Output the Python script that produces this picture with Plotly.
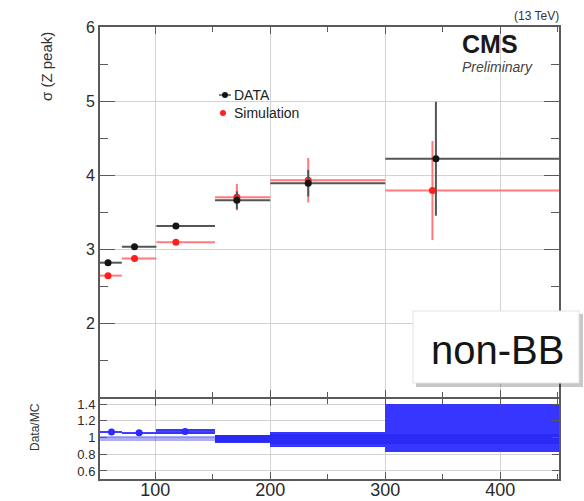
import plotly.graph_objects as go

# Bin edges of the mass-window bins (GeV)
bin_lo = [50, 71, 101, 152, 200, 300]
bin_hi = [71, 101, 152, 200, 300, 460]

# Width of the Z peak per bin: data and simulation
data_x = [59, 82, 118, 171, 233, 344]
data_y = [2.815, 3.03, 3.31, 3.66, 3.89, 4.22]
data_err = [0.02, 0.02, 0.02, 0.12, 0.18, 0.77]

mc_x = [59, 82, 118, 171, 233, 341]
mc_y = [2.64, 2.87, 3.09, 3.70, 3.93, 3.79]
mc_err = [0.02, 0.02, 0.02, 0.18, 0.30, 0.67]

# Data/MC ratio panel
ratio_x = [62, 86, 126, 171, 233, 344]
ratio = [1.066, 1.056, 1.071, 0.985, 0.98, 1.115]
ratio_err = [0.008, 0.008, 0.028, 0.045, 0.09, 0.285]
band_center = [0.99, 0.99, 0.99, 0.99, 0.98, 0.98]
band_half = [0.03, 0.03, 0.03, 0.04, 0.06, 0.06]

x_ticks = [100, 200, 300, 400]
y_ticks = [1, 2, 3, 4, 5, 6]
y_tick_text = ["", "2", "3", "4", "5", "6"]
r_ticks = [0.6, 0.8, 1.0, 1.2, 1.4]
r_tick_text = ["0.6", "0.8", "1", "1.2", "1.4"]

FONT = "Liberation Sans, Arial, sans-serif"
FRAME = "#5a5a5a"
GRID = "#d2d2d2"

centers = [(a + b) / 2 for a, b in zip(bin_lo, bin_hi)]
widths = [b - a for a, b in zip(bin_lo, bin_hi)]

fig = go.Figure()

# Main panel: simulation first, data on top
fig.add_trace(go.Scatter(
    x=mc_x, y=mc_y, mode="markers", name="Simulation",
    marker=dict(color="#ff1f1f", size=7),
    error_x=dict(type="data", symmetric=False,
                 array=[h - x for h, x in zip(bin_hi, mc_x)],
                 arrayminus=[x - l for l, x in zip(bin_lo, mc_x)],
                 color="#ff7a7a", thickness=2, width=0),
    error_y=dict(type="data", array=mc_err, color="#ff7a7a", thickness=2, width=0),
    xaxis="x", yaxis="y",
))
fig.add_trace(go.Scatter(
    x=data_x, y=data_y, mode="markers", name="DATA",
    marker=dict(color="#141414", size=7),
    error_x=dict(type="data", symmetric=False,
                 array=[h - x for h, x in zip(bin_hi, data_x)],
                 arrayminus=[x - l for l, x in zip(bin_lo, data_x)],
                 color="#555555", thickness=2, width=0),
    error_y=dict(type="data", array=data_err, color="#555555", thickness=2, width=0),
    xaxis="x", yaxis="y",
))

# Ratio panel: filled error boxes, reference band and points
fig.add_trace(go.Bar(
    x=centers, width=widths,
    base=[r - e for r, e in zip(ratio, ratio_err)],
    y=[2 * e for e in ratio_err],
    marker=dict(color="#3636ff", line=dict(width=0)),
    xaxis="x2", yaxis="y2",
))
fig.add_trace(go.Bar(
    x=centers, width=widths,
    base=[c - h for c, h in zip(band_center, band_half)],
    y=[2 * h for h in band_half],
    marker=dict(color="rgba(20,20,225,0.35)", line=dict(width=0)),
    xaxis="x2", yaxis="y2",
))
fig.add_trace(go.Scatter(
    x=ratio_x[:3], y=ratio[:3], mode="markers",
    marker=dict(color="#2b2bff", size=7),
    error_x=dict(type="data", symmetric=False,
                 array=[h - x for h, x in zip(bin_hi[:3], ratio_x[:3])],
                 arrayminus=[x - l for l, x in zip(bin_lo[:3], ratio_x[:3])],
                 color="#4a4aff", thickness=1, width=0),
    xaxis="x2", yaxis="y2",
))

axis_common = dict(showline=True, linecolor=FRAME, linewidth=2, mirror="allticks",
                   ticks="inside", tickcolor=FRAME, zeroline=False,
                   showgrid=True, gridcolor=GRID, gridwidth=1,
                   tickfont=dict(family=FONT, color="#2a2a2a"), automargin=False)

X_RANGE = [52, 451]
R_SPLIT = 82 / 452           # main panel bottom edge (fraction of plot height)
R_TOP = 80 / 452             # ratio panel top edge, so both frame lines coincide

fig.update_layout(
    width=584, height=501,
    margin=dict(l=100, r=25, t=27, b=22),
    paper_bgcolor="white", plot_bgcolor="white",
    showlegend=False, barmode="overlay", bargap=0,
    xaxis=dict(axis_common, domain=[0, 1], anchor="y", range=X_RANGE,
               tickmode="array", tickvals=x_ticks, showticklabels=False, ticklen=7,
               minor=dict(tickmode="linear", tick0=0, dtick=50, ticks="inside",
                          ticklen=5, tickcolor=FRAME, showgrid=False)),
    yaxis=dict(axis_common, domain=[R_SPLIT, 1], anchor="x", range=[1, 6],
               tickmode="array", tickvals=y_ticks, ticktext=y_tick_text, ticklen=15,
               tickfont=dict(family=FONT, size=16, color="#2a2a2a"),
               minor=dict(tickmode="linear", tick0=0, dtick=0.5, ticks="inside",
                          ticklen=8, tickcolor=FRAME, showgrid=False)),
    xaxis2=dict(axis_common, domain=[0, 1], anchor="y2", range=X_RANGE,
                tickmode="array", tickvals=x_ticks, ticklen=7, ticklabelstandoff=-7,
                tickfont=dict(family=FONT, size=18, color="#2a2a2a"),
                minor=dict(tickmode="linear", tick0=0, dtick=50, ticks="inside",
                           ticklen=5, tickcolor=FRAME, showgrid=False)),
    yaxis2=dict(axis_common, domain=[0, R_TOP], anchor="x2", range=[0.504, 1.46],
                tickmode="array", tickvals=r_ticks, ticktext=r_tick_text, ticklen=7,
                tickfont=dict(family=FONT, size=13, color="#2a2a2a")),
)


def px(x):
    return (x - 100) / 459


def py(y):
    return (479 - y) / 452


annotations = [
    dict(text="σ (Z peak)", x=px(46), y=py(67), textangle=-90,
         font=dict(family=FONT, size=15, color="#333")),
    dict(text="Data/MC", x=px(35), y=py(427), textangle=-90,
         font=dict(family=FONT, size=12, color="#333")),
    dict(text="(13 TeV)", x=px(561), y=py(16), xanchor="right",
         font=dict(family=FONT, size=12, color="#333")),
    dict(text="<b>CMS</b>", x=px(460), y=py(44), xanchor="left",
         font=dict(family=FONT, size=25, color="#1a1a1a")),
    dict(text="<i>Preliminary</i>", x=px(460), y=py(67), xanchor="left",
         font=dict(family=FONT, size=14, color="#444")),
    dict(text="DATA", x=px(232), y=py(95), xanchor="left",
         font=dict(family=FONT, size=14, color="#222")),
    dict(text="Simulation", x=px(232), y=py(113), xanchor="left",
         font=dict(family=FONT, size=14, color="#222")),
    dict(text="non-BB", x=px(497), y=py(350),
         font=dict(family=FONT, size=40, color="#151515")),
]
for a in annotations:
    a.setdefault("xanchor", "center")
    a.update(xref="paper", yref="paper", yanchor="middle", showarrow=False)
fig.update_layout(annotations=annotations)

shapes = [
    # legend glyphs
    dict(type="line", x0=px(219), x1=px(231), y0=py(95), y1=py(95),
         line=dict(color="#555", width=1.5)),
    dict(type="circle", x0=px(222), x1=px(228), y0=py(98), y1=py(92),
         fillcolor="#141414", line=dict(width=0)),
    dict(type="circle", x0=px(220), x1=px(226), y0=py(116), y1=py(110),
         fillcolor="#ff1f1f", line=dict(width=0)),
    # category label box with drop shadow
    dict(type="rect", x0=px(416), x1=px(583), y0=py(387), y1=py(314),
         fillcolor="rgba(0,0,0,0.22)", line=dict(width=0), layer="above"),
    dict(type="rect", x0=px(413), x1=px(579), y0=py(383), y1=py(311),
         fillcolor="white", line=dict(color="#e2e2e2", width=1), layer="above"),
]
for s in shapes:
    s.update(xref="paper", yref="paper")
fig.update_layout(shapes=shapes)

fig.write_html("out.html")
